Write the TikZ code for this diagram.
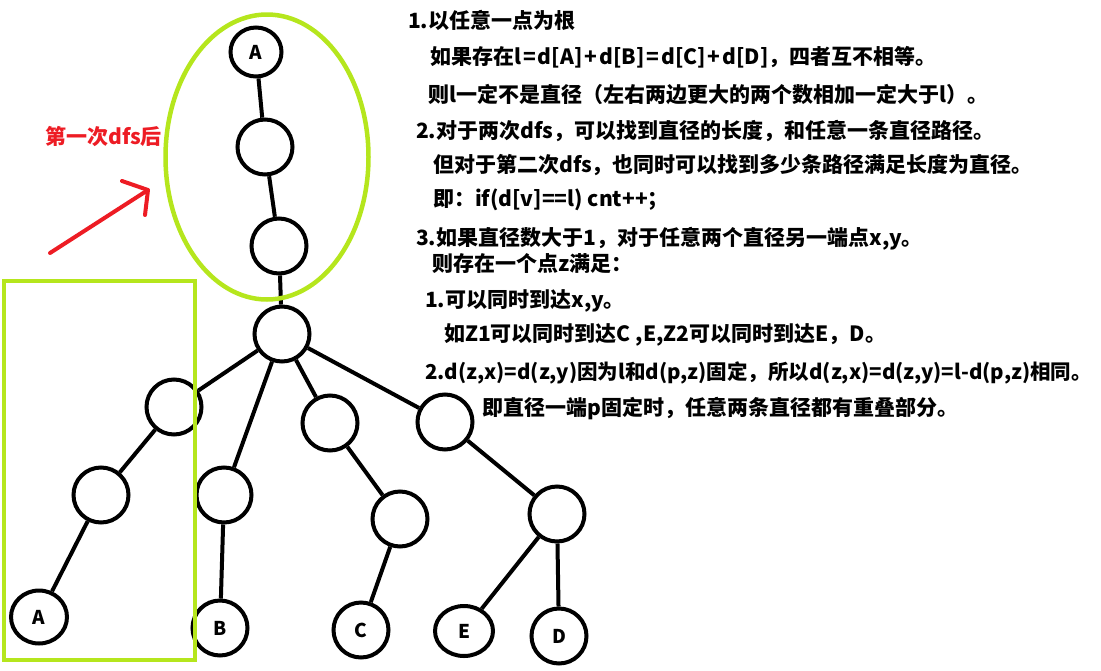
\documentclass[tikz,border=0pt]{standalone}
\usepackage{fontspec}
\setmainfont{Noto Sans CJK SC}
\usetikzlibrary{shapes.geometric}
\definecolor{lime}{HTML}{B5E61D}
\definecolor{pred}{HTML}{ED1C24}
\newcommand{\wop}[1]{\hspace{2pt}#1\hspace{2pt}}
\tikzset{
  vtx/.style={ellipse, draw, line width=4pt, minimum width=55pt, minimum height=55pt, inner sep=0pt, font=\fontsize{19}{19}\selectfont\bfseries},
  edge/.style={line width=4pt},
  txt/.style={anchor=base west, inner sep=0pt, font=\fontsize{21}{25}\selectfont\bfseries},
  grn/.style={draw=lime, line width=4.5pt},
  redline/.style={draw=pred, line width=4pt, line cap=round, line join=round}
}
\begin{document}
\begin{tikzpicture}[x=1pt,y=-1pt]
\useasboundingbox (0,0) rectangle (1101,670);
% tree nodes
\node[vtx, minimum width=51pt, minimum height=49pt] (a0) at (256,52) {A};
\node[vtx] (n1) at (265,147) {};
\node[vtx] (n2) at (279,246) {};
\node[vtx] (hub) at (282,334) {};
\node[vtx] (l1) at (174,407) {};
\node[vtx] (l2) at (101,495) {};
\node[vtx, minimum width=56pt, minimum height=53pt] (la) at (39,617) {A};
\node[vtx] (b1) at (224,495) {};
\node[vtx] (bb) at (220,628) {B};
\node[vtx] (m1) at (330,423) {};
\node[vtx] (c1) at (400,519) {};
\node[vtx] (cc) at (361,630) {C};
\node[vtx] (r1) at (445,422) {};
\node[vtx] (r2) at (557,514) {};
\node[vtx, minimum width=58pt, minimum height=50pt] (ee) at (464,631) {E};
\node[vtx] (dd) at (559,636) {D};
% edges
\draw[edge] (a0) -- (n1);
\draw[edge] (n1) -- (n2);
\draw[edge] (n2) -- (hub);
\draw[edge] (hub) -- (l1);
\draw[edge] (l1) -- (l2);
\draw[edge] (l2) -- (la);
\draw[edge] (hub) -- (b1);
\draw[edge] (b1) -- (bb);
\draw[edge] (hub) -- (m1);
\draw[edge] (m1) -- (c1);
\draw[edge] (c1) -- (cc);
\draw[edge] (hub) -- (r1);
\draw[edge] (r1) -- (r2);
\draw[edge] (r2) -- (ee);
\draw[edge] (r2) -- (dd);
% green outlines
\draw[grn] (267,157) ellipse [x radius=101.5pt, y radius=142.5pt];
\draw[grn] (4,281) rectangle (195,660);
% red arrow and label
\coordinate (tail) at (50,253);
\coordinate (tip) at (148,190);
\coordinate (barA) at (122,181);
\coordinate (barB) at (145,215);
\draw[redline] (tail) -- (tip);
\draw[redline] (barA) -- (tip) -- (barB);
\node[txt, text=pred] (lbl) at (45,144) {第一次dfs后};
% text
\node[txt] (t1) at (408,28) {1.以任意一点为根};
\node[txt] (t2) at (430,64) {如果存在l\wop{=}d[A]\wop{+}d[B]\wop{=}d[C]\wop{+}d[D]，四者互不相等。};
\node[txt] (t3) at (428,102) {则l一定不是直径（左右两边更大的两个数相加一定大于l）。};
\node[txt] (t4) at (416,138) {2.对于两次dfs，可以找到直径的长度，和任意一条直径路径。};
\node[txt] (t5) at (433,172) {但对于第二次dfs，也同时可以找到多少条路径满足长度为直径。};
\node[txt] (t6) at (433,206) {即：if(d[v]==l) cnt++；};
\node[txt] (t7) at (416,245) {3.如果直径数大于1，对于任意两个直径另一端点x,y。};
\node[txt] (t8) at (432,271) {则存在一个点z满足：};
\node[txt] (t9) at (425,307) {1.可以同时到达x,y。};
\node[txt] (t10) at (444,341) {如Z1可以同时到达C ,E,Z2可以同时到达E，D。};
\node[txt, font=\fontsize{20.5}{25}\selectfont\bfseries] (t11) at (425,379) {2.d(z,x)=d(z,y)因为l和d(p,z)固定，所以d(z,x)=d(z,y)=l-d(p,z)相同。};
\node[txt] (t12) at (482,415) {即直径一端p固定时，任意两条直径都有重叠部分。};
\end{tikzpicture}
\end{document}
